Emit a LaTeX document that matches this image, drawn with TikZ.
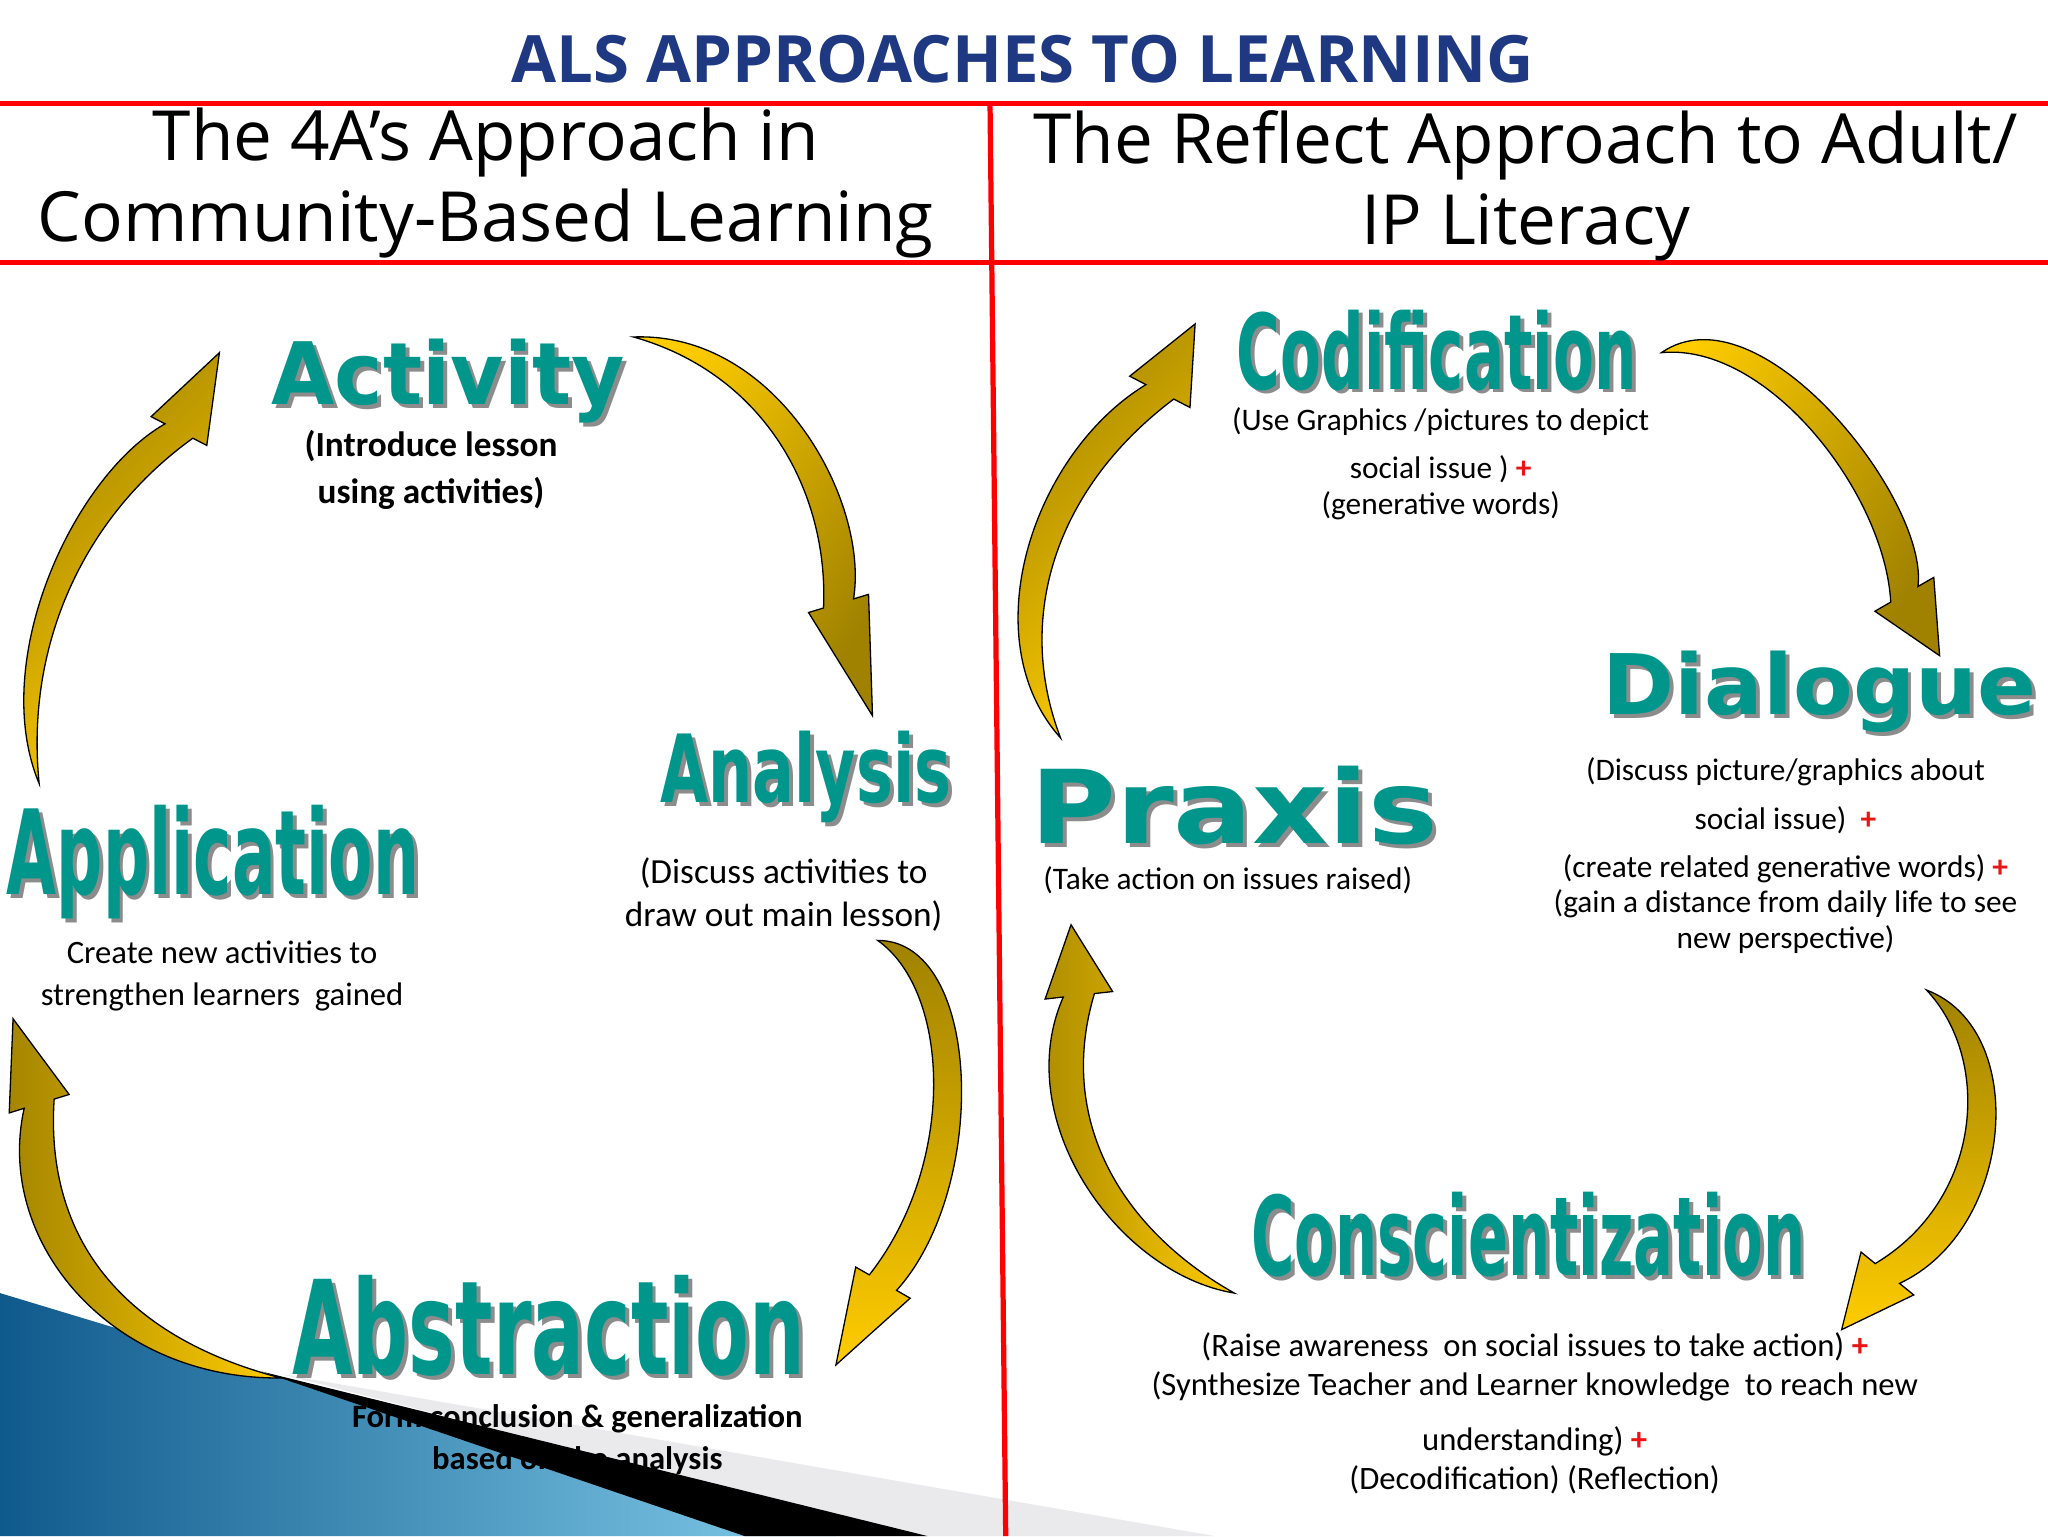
\documentclass[tikz,border=0pt]{standalone}
\usepackage{fontspec}
\setmainfont{Open Sans}
\newfontfamily\cfont{Carlito}
\newfontfamily\wfont{DejaVu Sans}
\usetikzlibrary{calc}
\definecolor{navy}{RGB}{31,56,130}
\definecolor{tealw}{RGB}{0,150,140}
\definecolor{gold}{RGB}{255,204,0}
\definecolor{olivea}{RGB}{160,130,0}
\definecolor{redl}{RGB}{235,20,20}
\definecolor{bgdark}{RGB}{15,90,140}
\definecolor{bglight}{RGB}{130,205,235}
\tikzset{
 wa/.style={font=\wfont\bfseries\fontsize{#1}{#1}\selectfont, text=tealw, inner sep=0pt},
 wash/.style={font=\wfont\bfseries\fontsize{#1}{#1}\selectfont, text=black!45, inner sep=0pt},
 sm/.style={font=\cfont\fontsize{24}{27}\selectfont, align=center, inner sep=0pt},
 hd/.style={font=\fontsize{53}{62}\selectfont, align=center, inner sep=0pt},
 redline/.style={draw=red, line width=4pt},
}
\newcommand\plus{\textcolor{redl}{\textbf{+}}}
\newcommand\wart[5]{% name, pos, size, xscale, text
 \node[wash=#3, xscale=#4] at ($(#2)+(3,3)$) {#5};
 \node[wa=#3, xscale=#4] (#1) at (#2) {#5};}
% tail P1 P2 E tip w wing angle sign
\newcommand\carrow[9]{%
 \coordinate (mm) at ($(#1)!0.5!(#4)$);
 \path[draw=black,line width=1pt,top color=gold,bottom color=olivea,shading angle=#8]
 (#1) .. controls ($(mm)!1.18!(#2)$) and ($(mm)!1.18!(#3)$) .. ($(#4)!#6!#990:(#5)$) -- ($(#4)!#7!#990:(#5)$) -- (#5)
 -- ($(#4)!#7!-#990:(#5)$) -- ($(#4)!#6!-#990:(#5)$) .. controls ($(mm)!0.82!(#3)$) and ($(mm)!0.82!(#2)$) .. (#1) -- cycle;}
\begin{document}
\begin{tikzpicture}[x=1pt,y=-1pt]
\useasboundingbox (0,0) rectangle (1568,1176);
\fill[white] (0,0) rectangle (1568,1176);
% background decoration
\shade[left color=bgdark, right color=bglight] (0,990) -- (215,1055) -- (640,1176) -- (0,1176) -- cycle;
\fill[blue!8!gray!15] (215,1052) -- (930,1176) -- (700,1176) -- cycle;
% lines
\draw[redline] (0,79) -- (1568,79);
\draw[redline] (0,201) -- (1568,201);
\draw[redline] (758,81) -- (770,1176);
% title and headings
\node[font=\bfseries\fontsize{50}{50}\selectfont, text=navy] (title) at (783,45) {ALS APPROACHES TO LEARNING};
\node[hd] (h1) at (372,140) {The 4A’s Approach in\\Community-Based Learning};
\node[hd] (h2) at (1168,142) {The Reflect Approach to Adult/\\IP Literacy};
% arrows left
\carrow{485,258}{590,270}{650,380}{642,462}{668,548}{12pt}{24pt}{60}{}
\carrow{672,720}{740,740}{745,900}{676,982}{640,1045}{12pt}{24pt}{180}{}
\carrow{215,1055}{90,1040}{15,950}{30,845}{10,780}{12pt}{24pt}{-90}{}
\carrow{30,600}{5,500}{60,380}{137,330}{168,270}{12pt}{24pt}{-135}{}
% arrows right
\carrow{1272,270}{1350,240}{1460,380}{1458,455}{1485,502}{12pt}{26pt}{60}{}
\carrow{1475,758}{1540,800}{1530,930}{1445,975}{1410,1018}{12pt}{26pt}{180}{}
\carrow{945,990}{860,960}{790,860}{826,762}{820,708}{12pt}{26pt}{-90}{}
\carrow{812,565}{760,480}{800,360}{888,300}{915,248}{12pt}{26pt}{-135}{}
% left texts
\wart{act}{343,292}{66}{0.95}{Activity}
\node[sm, font=\cfont\bfseries\fontsize{27}{36}\selectfont] (acttx) at (330,360) {(Introduce lesson\\using activities)};
\wart{ana}{617,595}{72}{0.66}{Analysis}
\node[sm, font=\cfont\fontsize{27}{33}\selectfont] (anatx) at (600,685) {(Discuss activities to\\draw out main lesson)};
\wart{app}{163,660}{90}{0.55}{Application}
\node[sm, font=\cfont\fontsize{25}{32}\selectfont] (apptx) at (170,747) {Create new activities to\\strengthen learners\ \ gained};
\wart{abs}{420,1015}{100}{0.6}{Abstraction}
\node[sm, font=\cfont\bfseries\fontsize{25}{32}\selectfont] (abstx) at (442,1102) {Form conclusion \& generalization\\based on the analysis};
\fill[black] (200,1050) -- (710,1176) -- (570,1176) -- cycle;
% right texts
\wart{cod}{1100,268}{80}{0.57}{Codification}
\node[sm] (codtx) at (1103,355) {(Use Graphics /pictures to depict\\[10pt]social issue ) \plus\\(generative words)};
\wart{dia}{1393,530}{64}{1.04}{Dialogue}
\node[sm] (diatx) at (1367,655) {(Discuss picture/graphics about\\[10pt]social issue)\ \ \plus\\[10pt](create related generative words) \plus\\(gain a distance from daily life to see\\new perspective)};
\wart{pra}{945,617}{78}{1.15}{Praxis}
\node[sm] (pratx) at (940,674) {(Take action on issues raised)};
\wart{con}{1170,945}{84}{0.54}{Conscientization}
\node[sm, font=\cfont\fontsize{25}{30}\selectfont] (contx) at (1175,1082) {(Raise awareness\ \ on social issues to take action) \plus\\(Synthesize Teacher and Learner knowledge\ \ to reach new\\[12pt]understanding) \plus\\(Decodification) (Reflection)};
\end{tikzpicture}
\end{document}
